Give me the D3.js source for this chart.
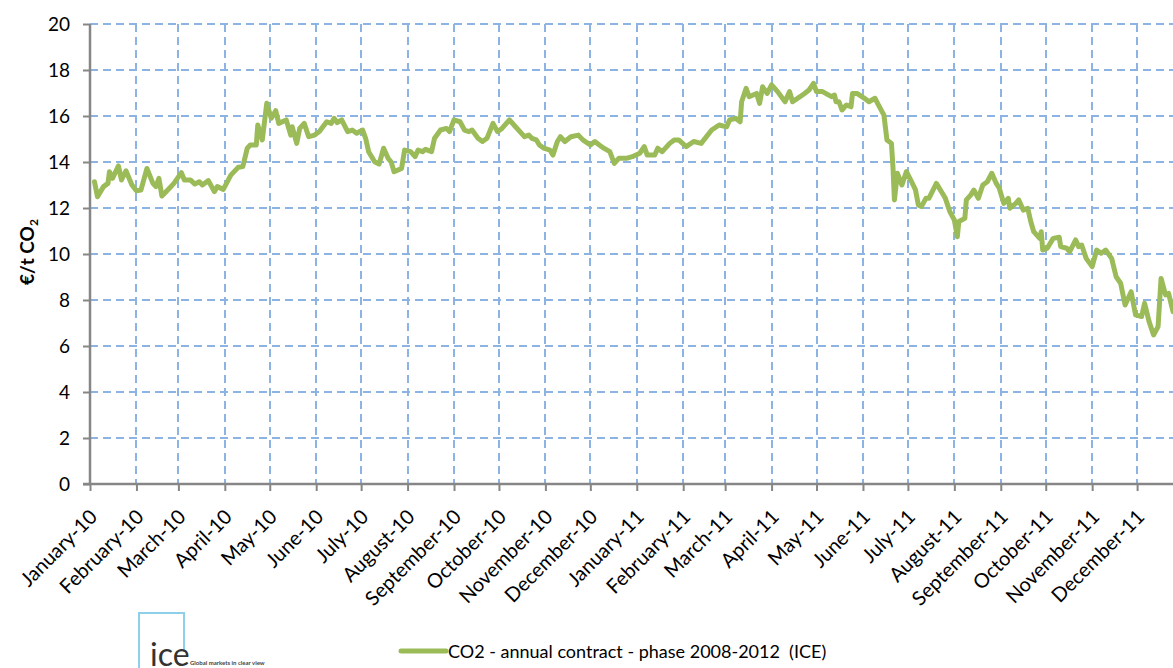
<!DOCTYPE html>
<html>
<head>
<meta charset="utf-8">
<script src="https://cdn.jsdelivr.net/npm/d3@7"></script>
<style>
  body { margin: 0; background: #fff; }
  svg { display: block; font-family: Lato, "Open Sans", sans-serif; }
</style>
</head>
<body>
<div id="container"></div>
<script>
// CO2 price, annual contract phase 2008-2012 (ICE), EUR per tonne
var dates = [
  "2010-01-04","2010-01-06","2010-01-10","2010-01-13","2010-01-14","2010-01-16","2010-01-20","2010-01-22","2010-01-25","2010-01-29",
  "2010-02-01","2010-02-04","2010-02-08","2010-02-12","2010-02-14","2010-02-16","2010-02-18","2010-02-23","2010-02-26",
  "2010-03-03","2010-03-05","2010-03-09","2010-03-12","2010-03-15","2010-03-17","2010-03-21","2010-03-25","2010-03-27","2010-03-31",
  "2010-04-05","2010-04-10","2010-04-13","2010-04-16","2010-04-18","2010-04-22","2010-04-23","2010-04-26","2010-04-29",
  "2010-05-02","2010-05-05","2010-05-07","2010-05-12","2010-05-15","2010-05-16","2010-05-19","2010-05-21","2010-05-24","2010-05-27","2010-05-31",
  "2010-06-03","2010-06-08","2010-06-11","2010-06-13","2010-06-15","2010-06-18","2010-06-22","2010-06-25","2010-06-28",
  "2010-07-02","2010-07-04","2010-07-06","2010-07-10","2010-07-13","2010-07-16","2010-07-19","2010-07-21","2010-07-23","2010-07-28","2010-07-30",
  "2010-08-03","2010-08-06","2010-08-08","2010-08-11","2010-08-13","2010-08-17","2010-08-19","2010-08-23","2010-08-27","2010-08-29",
  "2010-09-01","2010-09-05","2010-09-08","2010-09-11","2010-09-13","2010-09-17","2010-09-20","2010-09-23","2010-09-27","2010-09-30",
  "2010-10-03","2010-10-08","2010-10-11","2010-10-15","2010-10-18","2010-10-21","2010-10-23","2010-10-26","2010-10-28","2010-10-31",
  "2010-11-04","2010-11-06","2010-11-09","2010-11-11","2010-11-14","2010-11-18","2010-11-23","2010-11-26",
  "2010-12-01","2010-12-04","2010-12-07","2010-12-10","2010-12-14","2010-12-17","2010-12-20","2010-12-25","2010-12-29",
  "2011-01-03","2011-01-06","2011-01-08","2011-01-13","2011-01-15","2011-01-18","2011-01-23","2011-01-26","2011-01-29",
  "2011-02-03","2011-02-08","2011-02-13","2011-02-20","2011-02-25",
  "2011-03-02","2011-03-04","2011-03-08","2011-03-11","2011-03-12","2011-03-15","2011-03-17","2011-03-22","2011-03-24","2011-03-26","2011-03-29",
  "2011-04-01","2011-04-05","2011-04-10","2011-04-13","2011-04-15","2011-04-20","2011-04-23","2011-04-26","2011-04-29",
  "2011-05-01","2011-05-05","2011-05-11","2011-05-13","2011-05-14","2011-05-16","2011-05-18","2011-05-21","2011-05-24","2011-05-25","2011-05-28",
  "2011-06-02","2011-06-05","2011-06-09","2011-06-12","2011-06-15","2011-06-17","2011-06-20","2011-06-21","2011-06-22","2011-06-24","2011-06-27","2011-06-30",
  "2011-07-03","2011-07-06","2011-07-08","2011-07-10","2011-07-13","2011-07-15","2011-07-20","2011-07-24","2011-07-26","2011-07-29",
  "2011-08-01","2011-08-03","2011-08-04","2011-08-08","2011-08-09","2011-08-12","2011-08-14","2011-08-17","2011-08-20","2011-08-23","2011-08-26","2011-08-29","2011-08-31",
  "2011-09-03","2011-09-06","2011-09-07","2011-09-11","2011-09-13","2011-09-16","2011-09-19","2011-09-21","2011-09-23","2011-09-27","2011-09-28","2011-09-29",
  "2011-10-02","2011-10-06","2011-10-10","2011-10-11","2011-10-15","2011-10-17","2011-10-21","2011-10-23","2011-10-25","2011-10-28",
  "2011-11-01","2011-11-04","2011-11-07","2011-11-10","2011-11-14","2011-11-17","2011-11-20","2011-11-23","2011-11-27","2011-11-30",
  "2011-12-04","2011-12-06","2011-12-09","2011-12-12","2011-12-15","2011-12-17","2011-12-20","2011-12-22","2011-12-25"
];

var prices = [
  13.14,12.49,12.93,13.07,13.58,13.29,13.83,13.22,13.62,13.00,
  12.75,12.78,13.72,13.07,12.93,13.29,12.52,12.86,13.07,
  13.54,13.22,13.22,13.04,13.14,13.00,13.19,12.71,12.93,12.81,
  13.43,13.77,13.80,14.60,14.74,14.74,15.61,14.96,16.55,
  15.90,16.23,15.68,15.83,15.17,15.53,14.81,15.46,15.68,15.10,15.17,
  15.32,15.75,15.68,15.90,15.71,15.83,15.32,15.39,15.25,
  15.39,15.03,14.45,14.01,13.91,14.60,14.16,14.01,13.58,13.72,14.52,
  14.45,14.23,14.52,14.45,14.55,14.45,15.03,15.39,15.46,15.32,
  15.83,15.75,15.39,15.32,15.39,15.03,14.89,15.03,15.68,15.32,
  15.46,15.83,15.61,15.32,15.10,15.17,15.03,14.96,14.74,14.60,
  14.52,14.30,14.89,15.10,14.89,15.10,15.17,14.96,
  14.74,14.89,14.74,14.60,14.45,13.94,14.16,14.16,14.23,
  14.38,14.67,14.30,14.30,14.60,14.45,14.81,14.96,14.96,
  14.67,14.89,14.81,15.39,15.61,
  15.53,15.83,15.90,15.75,16.62,17.20,16.84,16.98,16.55,17.27,16.98,
  17.35,17.06,16.62,17.06,16.62,16.84,16.98,17.13,17.42,
  17.06,17.06,16.84,16.91,16.62,16.62,16.26,16.48,16.40,16.98,16.98,
  16.77,16.62,16.77,16.40,16.04,14.96,14.81,13.80,12.35,13.51,13.00,13.58,
  13.20,12.80,12.13,12.06,12.42,12.42,13.07,12.64,12.42,11.84,
  11.48,10.75,11.41,11.55,12.35,12.57,12.78,12.42,13.00,13.14,13.51,13.07,12.86,
  12.20,12.42,11.99,12.20,12.35,11.91,11.99,11.41,10.97,10.68,10.97,10.17,
  10.25,10.68,10.73,10.32,10.25,10.10,10.61,10.32,10.39,9.81,
  9.45,10.17,10.03,10.17,9.81,9.01,8.73,7.78,8.36,7.35,
  7.28,7.86,7.06,6.48,6.84,8.94,8.22,8.29,7.49
];

var yTicks = [0, 2, 4, 6, 8, 10, 12, 14, 16, 18, 20];
var seriesName = "CO2 - annual contract - phase 2008-2012  (ICE)";

var parseDate = d3.timeParse("%Y-%m-%d");
var data = dates.map(function(d, i) {
  return {date: parseDate(d), value: prices[i]};
});

var W = 1173, H = 668;
var plotLeft = 90, plotTop = 24, plotBottom = 484;
var font = "Lato, 'Open Sans', sans-serif";

var svg = d3.select("#container")
  .append("svg")
  .attr("width", W)
  .attr("height", H);

// about 1.498 px per day, runs past the right edge as in the original
var x = d3.scaleTime()
  .domain([parseDate("2010-01-01"), parseDate("2011-12-31")])
  .range([plotLeft, plotLeft + 729 * 1.498]);

var y = d3.scaleLinear()
  .domain([0, 20])
  .range([plotBottom, plotTop]);

var months = d3.timeMonth.range(parseDate("2010-01-01"), parseDate("2011-12-02"));

// grid
svg.append("g")
  .selectAll("line")
  .data(yTicks.filter(function(d) { return d > 0; }))
  .enter()
  .append("line")
  .attr("x1", plotLeft)
  .attr("x2", W)
  .attr("y1", function(d) { return y(d); })
  .attr("y2", function(d) { return y(d); })
  .attr("stroke", "#8db3e2")
  .attr("stroke-width", 2)
  .attr("stroke-dasharray", "8,5");

svg.append("g")
  .selectAll("line")
  .data(months.slice(1))
  .enter()
  .append("line")
  .attr("x1", function(d) { return Math.round(x(d)); })
  .attr("x2", function(d) { return Math.round(x(d)); })
  .attr("y1", plotTop)
  .attr("y2", plotBottom)
  .attr("stroke", "#8db3e2")
  .attr("stroke-width", 2)
  .attr("stroke-dasharray", "8,5");

// y axis
var yAxis = svg.append("g")
  .attr("transform", "translate(" + plotLeft + ",0)")
  .call(d3.axisLeft(y).tickValues(yTicks).tickSize(7).tickPadding(13))
  .attr("font-family", font);

yAxis.select(".domain").attr("stroke", "#868686").attr("stroke-width", 2.5).attr("d", "M0," + plotTop + "V" + plotBottom);
yAxis.selectAll(".tick line").attr("stroke", "#868686").attr("stroke-width", 2);
yAxis.selectAll(".tick text")
  .attr("fill", "#000")
  .style("font-size", "19px");

// x axis
var xAxis = svg.append("g")
  .attr("transform", "translate(0," + plotBottom + ")")
  .call(d3.axisBottom(x).tickValues(months).tickSize(7).tickFormat(d3.timeFormat("%B-%y")))
  .attr("font-family", font);

xAxis.select(".domain").attr("stroke", "#868686").attr("stroke-width", 2.5).attr("d", "M" + (plotLeft - 7) + ",0H" + W);
xAxis.selectAll(".tick line").attr("stroke", "#868686").attr("stroke-width", 2);
xAxis.selectAll(".tick text")
  .attr("fill", "#000")
  .style("font-size", "20px")
  .style("text-anchor", "end")
  .attr("dy", 0)
  .attr("y", 0)
  .attr("transform", "translate(8,34) rotate(-45)");

// y title
svg.append("text")
  .attr("transform", "translate(34,252) rotate(-90)")
  .attr("text-anchor", "middle")
  .style("font-size", "19px")
  .style("font-weight", "bold")
  .text("€/t CO")
  .append("tspan")
  .attr("dy", 4)
  .style("font-size", "12px")
  .text("2");

// the series
var line = d3.line()
  .x(function(d) { return x(d.date); })
  .y(function(d) { return y(d.value); });

svg.append("path")
  .datum(data)
  .attr("d", line)
  .attr("fill", "none")
  .attr("stroke", "#9bbb59")
  .attr("stroke-width", 5)
  .attr("stroke-linejoin", "round")
  .attr("stroke-linecap", "round");

// legend
svg.append("line")
  .attr("x1", 401).attr("x2", 446)
  .attr("y1", 651).attr("y2", 651)
  .attr("stroke", "#9bbb59")
  .attr("stroke-width", 5)
  .attr("stroke-linecap", "round");

svg.append("text")
  .attr("x", 448)
  .attr("y", 658)
  .style("font-size", "18px")
  .style("white-space", "pre")
  .attr("fill", "#000")
  .text(seriesName);

// ICE logo
svg.append("path")
  .attr("d", "M139,668V613H184V652")
  .attr("fill", "none")
  .attr("stroke", "#8ed0ea")
  .attr("stroke-width", 2);

svg.append("text")
  .attr("x", 150)
  .attr("y", 666)
  .style("font-size", "32px")
  .attr("fill", "#333")
  .text("ice");

svg.append("text")
  .attr("x", 190)
  .attr("y", 665)
  .style("font-size", "6px")
  .style("font-weight", "bold")
  .attr("fill", "#444")
  .text("Global markets in clear view");
</script>
</body>
</html>
